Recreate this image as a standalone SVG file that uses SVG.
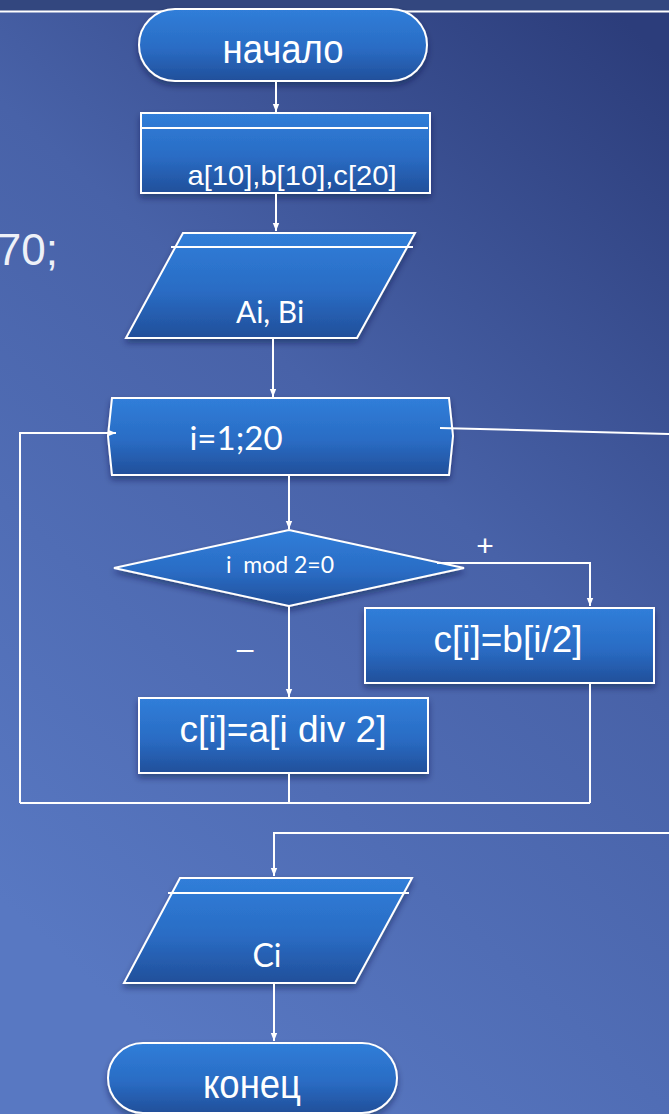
<svg xmlns="http://www.w3.org/2000/svg" width="669" height="1114" viewBox="0 0 669 1114">
<defs>
<linearGradient id="bg" x1="0.9" y1="0" x2="0.35" y2="1">
<stop offset="0" stop-color="#2c3d7b"/>
<stop offset="0.45" stop-color="#4862a8"/>
<stop offset="1" stop-color="#5878c2"/>
</linearGradient>
<linearGradient id="nf" x1="0" y1="0" x2="0" y2="1">
<stop offset="0" stop-color="#307ed9"/>
<stop offset="0.55" stop-color="#2a6cc4"/>
<stop offset="1" stop-color="#214f9a"/>
</linearGradient>
<filter id="sh" x="-10%" y="-10%" width="120%" height="140%">
<feDropShadow dx="0" dy="4" stdDeviation="3" flood-color="#101a40" flood-opacity="0.45"/>
</filter>
<marker id="ar" viewBox="0 0 10 10" refX="10" refY="5" markerWidth="8" markerHeight="8" markerUnits="userSpaceOnUse" orient="auto">
<path d="M0,1 L10,5 L0,9 z" fill="#ffffff"/>
</marker>
<style>
.node{fill:url(#nf);stroke:#ffffff;stroke-width:2;filter:url(#sh)}
.in{stroke:#ffffff;stroke-width:2;fill:none}
.c{stroke:#ffffff;stroke-width:2;fill:none}
.a{marker-end:url(#ar)}
.t{fill:#ffffff;font-family:"Liberation Sans",Arial,sans-serif;text-anchor:middle}
.k{fill:#ffffff;font-family:Lato,"Open Sans",sans-serif;text-anchor:middle}
</style>
</defs>
<rect width="669" height="1114" fill="url(#bg)"/>
<rect width="669" height="11" fill="#33477f"/>
<line x1="0" y1="11.5" x2="669" y2="11.5" stroke="#ffffff" stroke-width="2"/>
<text x="58" y="265" font-size="44" fill="#eef1f8" font-family="Liberation Sans, Arial, sans-serif" text-anchor="end">70;</text>

<g id="start">
<rect class="node" x="139" y="9" width="288" height="72" rx="36"/>
<text class="t" x="283" y="63" font-size="40" textLength="121" lengthAdjust="spacingAndGlyphs">начало</text>
</g>

<g id="decl">
<rect class="node" x="141" y="113" width="289" height="80"/>
<line class="in" x1="141" y1="128" x2="428" y2="128"/>
<text class="t" x="292" y="185" font-size="28" textLength="209" lengthAdjust="spacingAndGlyphs">a[10],b[10],c[20]</text>
</g>

<g id="input">
<polygon class="node" points="183,233 415,233 357,338 126,338"/>
<line class="in" x1="171" y1="247" x2="413" y2="247"/>
<text class="k" x="270" y="323" font-size="30">Ai, Bi</text>
</g>

<g id="loop">
<polygon class="node" points="112,398 449,398 453,436 449,475 112,475 108,436"/>
<text class="k" x="236" y="450" font-size="33">i=1;20</text>
</g>

<g id="cond">
<polygon class="node" points="114,568 289,530 464,568 289,606"/>
<text class="k" x="280" y="573" font-size="23" xml:space="preserve">i  mod 2=0</text>
</g>

<g id="even">
<rect class="node" x="365" y="608" width="289" height="75"/>
<text class="t" x="508" y="652" font-size="36" textLength="149" lengthAdjust="spacingAndGlyphs">c[i]=b[i/2]</text>
</g>

<g id="odd">
<rect class="node" x="139" y="698" width="289" height="75"/>
<text class="t" x="283" y="742" font-size="36" textLength="207" lengthAdjust="spacingAndGlyphs">c[i]=a[i div 2]</text>
</g>

<g id="output">
<polygon class="node" points="180,878 412,878 355,983 124,983"/>
<line class="in" x1="168" y1="893" x2="409" y2="893"/>
<text class="k" x="267" y="967" font-size="32">Ci</text>
</g>

<g id="end">
<rect class="node" x="108" y="1043" width="289" height="70" rx="35"/>
<text class="t" x="252" y="1098" font-size="40" textLength="98" lengthAdjust="spacingAndGlyphs">конец</text>
</g>

<g id="connectors">
<line class="c a" x1="276" y1="81" x2="276" y2="112"/>
<line class="c a" x1="276" y1="193" x2="276" y2="231"/>
<line class="c a" x1="273" y1="338" x2="273" y2="397"/>
<line class="c a" x1="289" y1="475" x2="289" y2="529"/>
<polyline class="c a" points="437,563 590,563 590,606"/>
<line class="c a" x1="289" y1="606" x2="289" y2="697"/>
<line class="c" x1="289" y1="773" x2="289" y2="803"/>
<line class="c" x1="590" y1="683" x2="590" y2="803"/>
<line class="c" x1="20" y1="803" x2="590" y2="803"/>
<polyline class="c a" points="20,803 20,433 116,433"/>
<line class="c" x1="440" y1="428" x2="669" y2="434"/>
<polyline class="c a" points="669,833 274,833 274,876"/>
<line class="c a" x1="274" y1="983" x2="274" y2="1041"/>
<text class="t" x="485" y="556" font-size="30">+</text>
<text class="t" x="245" y="659" font-size="30">–</text>
</g>
</svg>
